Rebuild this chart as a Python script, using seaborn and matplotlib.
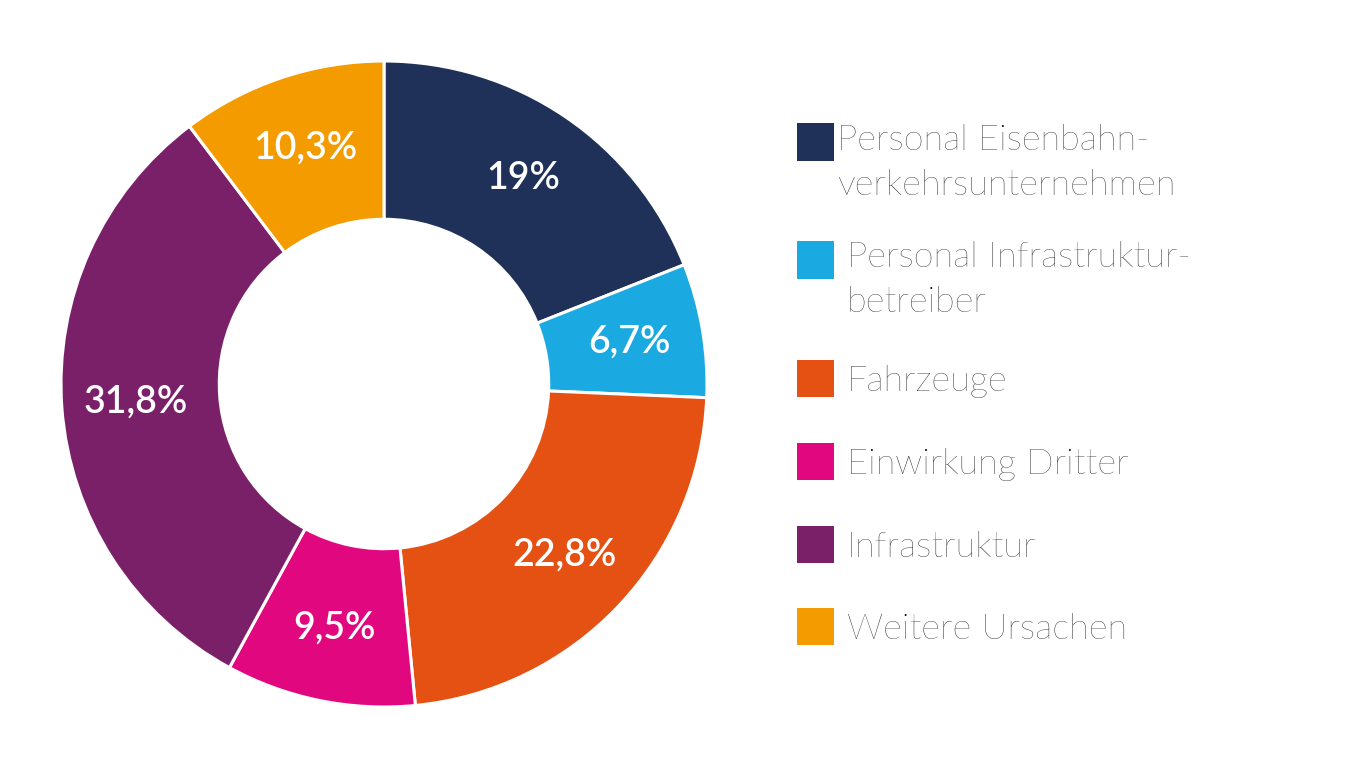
import matplotlib
import seaborn as sns

matplotlib.use("Agg")
import matplotlib.pyplot as plt
from matplotlib.patches import Rectangle

# Anteile der Ursachen (in %)
categories = [
    "Personal Eisenbahn-\nverkehrsunternehmen",
    "Personal Infrastruktur-\nbetreiber",
    "Fahrzeuge",
    "Einwirkung Dritter",
    "Infrastruktur",
    "Weitere Ursachen",
]
shares = [19.0, 6.7, 22.8, 9.5, 31.8, 10.3]
colors = ["#1F3059", "#1AA9E0", "#E55013", "#E0077F", "#7A2069", "#F49B00"]


def fmt_share(value: float) -> str:
    return f"{value:g}".replace(".", ",") + "%"


def main() -> None:
    sns.set_theme(style="white")
    plt.rcParams["font.family"] = ["Lato", "DejaVu Sans"]

    W, H = 1358, 768
    fig = plt.figure(figsize=(W / 100, H / 100), dpi=100)
    fig.patch.set_facecolor("white")

    # donut: centre (384, 384) px, radius ~323 px
    cx, cy, r = 384, 384, 323
    ax = fig.add_axes([(cx - r) / W, (H - cy - r) / H, 2 * r / W, 2 * r / H])

    pct_labels = iter(fmt_share(v) for v in shares)
    ax.pie(
        shares,
        colors=colors,
        startangle=90,
        counterclock=False,
        radius=1.0,
        autopct=lambda p: next(pct_labels),
        pctdistance=0.77,
        wedgeprops={"width": 0.49, "edgecolor": "white", "linewidth": 2.2},
        textprops={"color": "white", "fontsize": 27, "fontweight": "semibold"},
    )
    ax.set_xlim(-1, 1)
    ax.set_ylim(-1, 1)
    ax.set_aspect("equal")
    ax.axis("off")

    # legend, drawn by hand so the squares line up with the first text line
    square_centres = [142, 260, 378, 461, 544, 626]
    first_baselines = [150, 267, 391, 474, 557, 639]
    text_x = [837, 847, 847, 847, 847, 847]
    sq = 37
    line_gap = 45
    for label, color, yc, yb, tx in zip(categories, colors, square_centres, first_baselines, text_x):
        fig.patches.append(
            Rectangle(
                (797 / W, (H - yc - sq / 2) / H),
                sq / W,
                sq / H,
                transform=fig.transFigure,
                facecolor=color,
                edgecolor="none",
            )
        )
        for i, line in enumerate(label.split("\n")):
            fig.text(
                tx / W,
                (H - yb - i * line_gap) / H,
                line,
                fontsize=26,
                fontweight="light",
                color="black",
                ha="left",
                va="baseline",
            )

    fig.savefig("out.png", dpi=100, facecolor="white")
    plt.close(fig)


if __name__ == "__main__":
    main()
